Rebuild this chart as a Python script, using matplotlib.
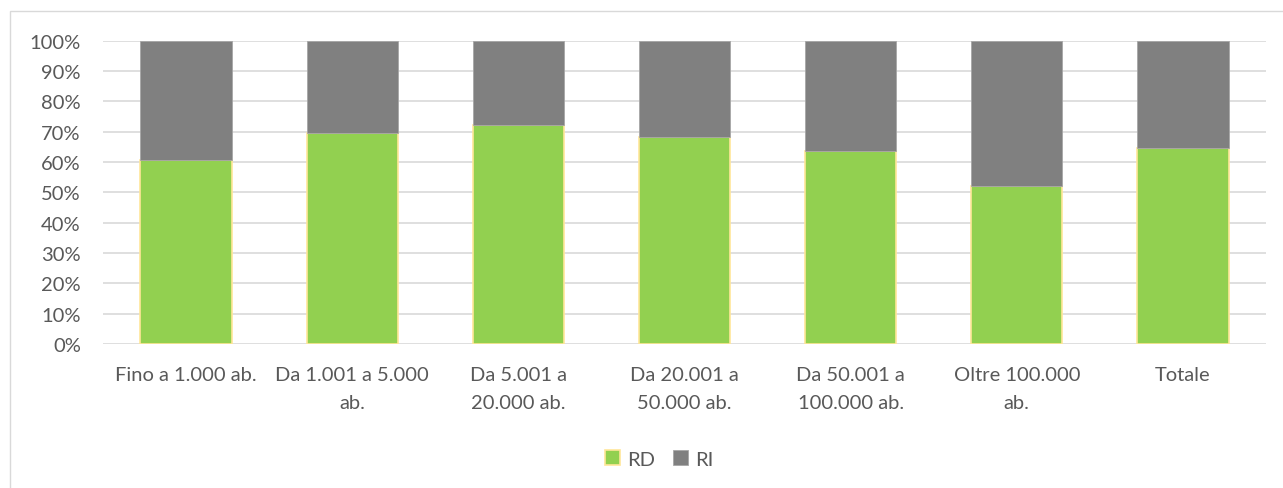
import matplotlib.pyplot as plt
from matplotlib.patches import Rectangle
import numpy as np

categories = ["Fino a 1.000 ab.", "Da 1.001 a 5.000\nab.", "Da 5.001 a\n20.000 ab.",
              "Da 20.001 a\n50.000 ab.", "Da 50.001 a\n100.000 ab.", "Oltre 100.000\nab.", "Totale"]
rd = [60.6, 69.5, 72.2, 68.2, 63.5, 52.2, 64.7]
ri = [100 - v for v in rd]
yticks = [0, 10, 20, 30, 40, 50, 60, 70, 80, 90, 100]

plt.rcParams['font.family'] = ['Lato', 'DejaVu Sans']
txt = '#595959'
fs = 14.5

W, H = 1283, 489
fig = plt.figure(figsize=(W / 100, H / 100), dpi=100)
ax = fig.add_axes([103 / W, 1 - 345 / H, (1266 - 103) / W, (345 - 41.7) / H])

x = np.arange(len(categories))
ax.bar(x, rd, width=0.55, color='#92D050', edgecolor='#FFE699', linewidth=1.2, label='RD', zorder=3)
ax.bar(x, ri, bottom=rd, width=0.55, color='#808080', edgecolor='#A6A6A6', linewidth=0.6, label='RI', zorder=3)

ax.set_xlim(-0.5, len(categories) - 0.5)
ax.set_ylim(0, 100)
ax.set_yticks(yticks)
ax.set_yticklabels([f"{t}%" for t in yticks], color=txt, fontsize=fs)
ax.set_xticks(x)
ax.set_xticklabels(categories, color=txt, fontsize=fs, linespacing=1.75, va='top')
ax.tick_params(axis='both', length=0)
ax.tick_params(axis='y', pad=16)
ax.tick_params(axis='x', pad=16)
ax.grid(axis='y', color='#D9D9D9', linewidth=1.2, zorder=0)
for s in ax.spines.values():
    s.set_visible(False)

leg = fig.legend(loc='center', bbox_to_anchor=(659 / W, 1 - 460 / H), ncol=2, frameon=False,
                 fontsize=fs, handlelength=0.75, handleheight=0.75, handletextpad=0.35,
                 columnspacing=0.9, labelcolor=txt)

fig.patches.append(Rectangle((10 / W, -0.1), 1.2, 1 - 12 / H + 0.1, transform=fig.transFigure,
                             fill=False, edgecolor='#D9D9D9', linewidth=1))

fig.savefig('out.png', dpi=100)
